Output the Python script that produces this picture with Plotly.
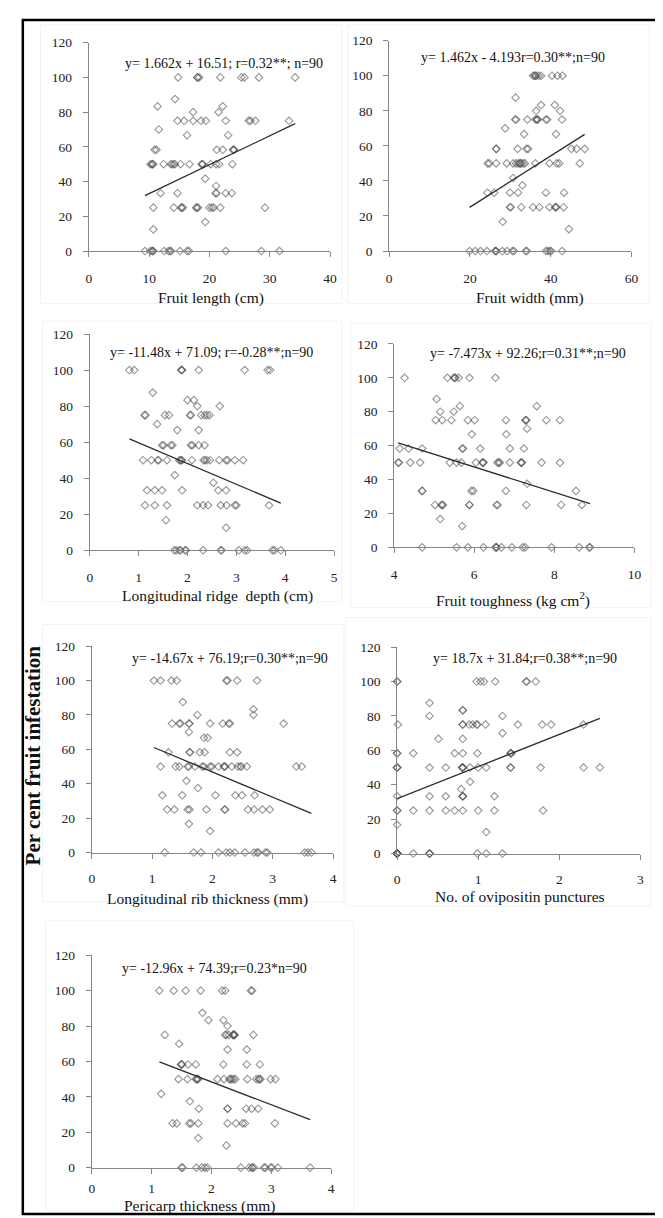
import plotly.graph_objects as go

W, H = 663, 1218

# ---------------- data ----------------
# Panel 1: Fruit length (cm)
len_x = [14.8, 18.0, 18.3, 21.8, 25.3, 25.8, 28.2, 34.2, 18.0,
         14.3,
         11.4, 22.2,
         17.3, 21.5,
         14.7, 15.8, 17.3, 18.6, 19.4, 22.7, 26.5, 26.8, 27.6, 33.2,
         11.6,
         16.3, 23.1,
         10.9, 11.2, 21.2, 22.2, 23.9, 24.1, 24.0,
         10.2, 10.5, 10.7, 12.4, 13.6, 14.1, 14.3, 15.2, 16.7, 18.7, 18.9, 20.2, 21.1, 21.6, 23.8, 10.5, 13.8, 18.8,
         19.3,
         21.1,
         11.9, 14.7, 21.0, 21.2, 22.7, 23.7,
         10.7, 14.1, 15.3, 15.6, 17.8, 18.1, 20.0, 20.4, 20.7, 21.8, 29.2, 15.4, 17.9,
         19.3,
         10.7,
         9.3, 10.2, 10.5, 10.7, 12.5, 13.2, 13.5, 13.6, 15.1, 16.3, 16.6, 22.7, 28.6, 31.6, 10.6]
len_y = [100] * 9 + [87.5] + [83.3] * 2 + [80] * 2 + [75] * 10 + [70] + [66.7] * 2 + [58.3] * 7 + \
        [50] * 18 + [41.7] + [37.5] + [33.3] * 6 + [25] * 13 + [16.7] + [12.5] + [0] * 15

# Panel 2: Fruit width (mm)
wid_x = [35.6, 36.0, 36.4, 37.0, 37.6, 40.3, 41.7, 42.9, 36.2,
         31.3,
         37.6, 41.0,
         36.4, 42.3,
         31.2, 31.4, 34.2, 36.2, 36.6, 36.8, 38.8, 39.1, 42.8, 36.6,
         28.7,
         33.4, 41.3,
         26.5, 31.8, 34.0, 34.4, 45.1, 46.4, 48.4, 26.5,
         24.4, 24.8, 26.5, 29.1, 30.7, 31.4, 31.9, 32.3, 32.7, 33.2, 33.6, 36.2, 39.7, 41.5, 42.1, 47.2, 32.5,
         30.7,
         33.0,
         24.3, 26.0, 29.9, 31.9, 38.8, 43.3,
         29.9, 30.1, 32.7, 35.6, 37.2, 39.7, 41.1, 41.4, 43.2, 41.2,
         28.1,
         44.5,
         19.9, 21.3, 22.6, 24.2, 26.2, 26.5, 28.0, 29.2, 30.5, 30.9, 33.8, 34.1, 38.8, 39.3, 39.8, 40.1, 42.8, 26.4]
wid_y = [100] * 9 + [87.5] + [83.3] * 2 + [80] * 2 + [75] * 10 + [70] + [66.7] * 2 + [58.3] * 8 + \
        [50] * 17 + [41.7] + [37.5] + [33.3] * 6 + [25] * 10 + [16.7] + [12.5] + [0] * 18

# Panel 3: Longitudinal ridge depth (cm)
rid_x = [0.81, 0.91, 1.87, 1.89, 2.23, 3.17, 3.64, 3.69, 1.88,
         1.29,
         2.00, 2.13,
         2.20, 2.66,
         1.12, 1.14, 1.54, 1.62, 2.05, 2.07, 2.28, 2.35, 2.40, 2.45,
         1.38,
         1.79, 2.23,
         1.48, 1.51, 1.66, 1.69, 2.07, 2.10, 2.23, 2.35,
         1.09, 1.26, 1.39, 1.41, 1.58, 1.83, 1.86, 1.89, 2.09, 2.33, 2.36, 2.40, 2.46, 2.65, 2.79, 2.82, 2.97, 3.14, 1.87,
         1.74,
         2.53,
         1.17, 1.33, 1.48, 1.89, 2.63, 2.79,
         1.13, 1.33, 1.58, 2.20, 2.32, 2.42, 2.68, 2.80, 2.97, 3.00, 3.67,
         1.56,
         2.79,
         1.73, 1.77, 1.83, 1.86, 1.95, 1.97, 2.32, 2.68, 2.70, 3.05, 3.17, 3.22, 3.74, 3.78, 3.91]
rid_y = [100] * 9 + [87.5] + [83.3] * 2 + [80] * 2 + [75] * 10 + [70] + [66.7] * 2 + [58.3] * 8 + \
        [50] * 19 + [41.7] + [37.5] + [33.3] * 6 + [25] * 11 + [16.7] + [12.5] + [0] * 15

# Panel 4: Fruit toughness (kg cm2)
tou_x = [4.26, 5.33, 5.49, 5.53, 5.61, 5.88, 6.53, 5.51,
         5.06,
         5.64, 7.56,
         5.15, 5.49,
         5.04, 5.20, 5.43, 5.84, 6.01, 6.79, 7.28, 7.30, 7.80, 8.14, 7.29,
         7.32,
         5.94, 6.80,
         4.14, 4.36, 4.70, 5.70, 5.72, 6.15, 6.89, 7.24,
         4.10, 4.12, 4.40, 4.65, 5.39, 5.56, 5.68, 6.04, 6.20, 6.23, 6.58, 6.61, 6.64, 6.89, 7.16, 7.19, 7.68, 8.14, 6.22, 7.18,
         7.32,
         4.70, 5.93, 5.98, 6.79, 8.54, 4.70,
         5.02, 5.18, 5.22, 5.88, 6.56, 6.58, 7.30, 8.17, 8.69, 5.20, 5.88,
         5.15,
         5.70,
         4.70, 5.56, 5.84, 6.23, 6.53, 6.56, 6.68, 6.94, 7.21, 7.27, 7.93, 8.62, 8.87, 8.89, 6.55]
tou_y = [100] * 8 + [87.5] + [83.3] * 2 + [80] * 2 + [75] * 11 + [70] + [66.7] * 2 + [58.3] * 8 + \
        [50] * 20 + [37.5] + [33.3] * 6 + [25] * 11 + [16.7] + [12.5] + [0] * 15

# Panel 5: Longitudinal rib thickness (mm)
rib_x = [1.03, 1.14, 1.32, 1.41, 2.23, 2.25, 2.41, 2.74,
         1.51,
         2.68,
         1.75, 2.68,
         1.33, 1.45, 1.47, 1.61, 1.62, 1.96, 2.17, 2.27, 2.29, 3.18,
         1.61,
         1.86, 1.92,
         1.27, 1.62, 1.63, 1.79, 1.87, 2.29, 2.41,
         1.14, 1.39, 1.45, 1.59, 1.61, 1.71, 1.83, 1.86, 1.96, 1.99, 2.10, 2.19, 2.20, 2.21, 2.32, 2.42, 2.46, 2.48, 2.57, 3.39, 3.48,
         1.57,
         1.76,
         1.17, 1.50, 2.05, 2.38, 2.49, 2.70,
         1.25, 1.37, 1.59, 1.62, 1.90, 2.20, 2.21, 2.59, 2.69, 2.83, 2.95,
         1.61,
         1.96,
         1.21, 1.69, 1.81, 2.10, 2.23, 2.29, 2.37, 2.54, 2.69, 2.74, 2.76, 2.88, 2.91, 3.53, 3.58, 3.64]
rib_y = [100] * 8 + [87.5] + [83.3] + [80] * 2 + [75] * 10 + [70] + [66.7] * 2 + [58.3] * 7 + \
        [50] * 21 + [41.7] + [37.5] + [33.3] * 6 + [25] * 11 + [16.7] + [12.5] + [0] * 16

# Panel 6: No. of oviposition punctures
ovi_x = [0.00, 0.98, 1.03, 1.07, 1.21, 1.59, 1.60, 1.71, 0.00,
         0.40,
         0.81, 0.81,
         0.40, 1.30,
         0.01, 0.81, 0.89, 0.93, 0.98, 0.99, 1.09, 1.49, 1.79, 1.90, 2.30, 0.81,
         1.30,
         0.51, 0.81,
         0.00, 0.00, 0.20, 0.71, 0.81, 0.99, 1.40, 1.41, 1.40,
         0.00, 0.00, 0.00, 0.40, 0.60, 0.80, 0.81, 0.81, 0.90, 1.00, 1.10, 1.40, 1.40, 1.77, 2.30, 2.50, 0.81,
         0.90,
         0.79,
         0.00, 0.40, 0.60, 0.81, 0.81, 1.20, 0.81,
         0.00, 0.00, 0.20, 0.40, 0.60, 0.71, 0.81, 1.00, 1.20, 1.80,
         0.00,
         1.10,
         0.00, 0.00, 0.00, 0.00, 0.00, 0.20, 0.40, 0.40, 0.40, 0.99, 1.10, 1.30, 0.00, 0.00]
ovi_y = [100] * 9 + [87.5] + [83.3] * 2 + [80] * 2 + [75] * 12 + [70] + [66.7] * 2 + [58.3] * 9 + \
        [50] * 17 + [41.7] + [37.5] + [33.3] * 7 + [25] * 10 + [16.7] + [12.5] + [0] * 14

# Panel 7: Pericarp thickness (mm)
per_x = [1.13, 1.37, 1.57, 1.82, 2.18, 2.23, 2.66, 2.68,
         1.85,
         1.95, 2.20,
         2.27,
         1.22, 2.23, 2.25, 2.29, 2.36, 2.37, 2.39, 2.70, 2.37, 2.38,
         1.46,
         2.27, 2.59,
         1.49, 1.51, 1.61, 1.74, 2.20, 2.59, 2.81, 1.50,
         1.45, 1.60, 1.74, 1.76, 1.78, 2.10, 2.21, 2.30, 2.32, 2.34, 2.37, 2.40, 2.60, 2.75, 2.79, 2.82, 2.99, 3.07, 1.76, 2.80,
         1.16,
         1.64,
         1.79, 2.27, 2.58, 2.67, 2.78, 2.27,
         1.35, 1.42, 1.63, 1.66, 1.78, 2.27, 2.41, 2.52, 2.56, 3.06,
         1.78,
         2.25,
         1.50, 1.52, 1.75, 1.84, 1.89, 1.93, 2.49, 2.63, 2.68, 2.71, 2.88, 2.90, 2.99, 3.01, 3.11, 3.65, 2.68]
per_y = [100] * 8 + [87.5] + [83.3] * 2 + [80] + [75] * 10 + [70] + [66.7] * 2 + [58.3] * 8 + \
        [50] * 20 + [41.7] + [37.5] + [33.3] * 6 + [25] * 10 + [16.7] + [12.5] + [0] * 17

# regression coefficients (slope, intercept) as printed on each panel
slopes = [1.662, 1.462, -11.48, -7.473, -14.67, 18.7, -12.96]
intercepts = [16.51, -4.193, 71.09, 92.26, 76.19, 31.84, 74.39]

eq_labels = [
    "y= 1.662x + 16.51; r=0.32**; n=90",
    "y= 1.462x - 4.193r=0.30**;n=90",
    "y= -11.48x + 71.09; r=-0.28**;n=90",
    "y= -7.473x + 92.26;r=0.31**;n=90",
    "y= -14.67x + 76.19;r=0.30**;n=90",
    "y= 18.7x + 31.84;r=0.38**;n=90",
    "y= -12.96x + 74.39;r=0.23*n=90",
]
x_titles = [
    "Fruit length (cm)",
    "Fruit width (mm)",
    "Longitudinal ridge  depth (cm)",
    "Fruit toughness (kg cm<sup>2</sup>)",
    "Longitudinal rib thickness (mm)",
    "No. of ovipositin punctures",
    "Pericarp thickness (mm)",
]
x_ranges = [[0, 40], [0, 60], [0, 5], [4, 10], [0, 4], [0, 3], [0, 4]]
x_dticks = [10, 20, 1, 2, 1, 1, 1]
y_range = [0, 120]
y_dtick = 20
y_title = "Per cent fruit infestation"

xs = [len_x, wid_x, rid_x, tou_x, rib_x, ovi_x, per_x]
ys = [len_y, wid_y, rid_y, tou_y, rib_y, ovi_y, per_y]

# ---------------- layout geometry (pixels) ----------------
# plot areas: (left, right, top, bottom)
areas = [
    (79, 324, 28, 239),
    (384, 630, 26, 239),
    (80, 328, 323, 542),
    (389, 633, 333, 539),
    (82, 327, 639, 848),
    (392, 639, 640, 849),
    (82, 325, 952, 1167),
]
eq_pos = [(216, 49), (510, 43), (204, 342), (525, 343), (222, 652), (522, 652), (207, 965)]
title_pos = [(203, 287), (527, 287), (210, 588), (510, 592), (200, 895), (517, 892), (192, 1206)]
xlabel_standoff = [10, 10, 9, 9, 8, 8, 3]
boxes = [
    (30, 336, 10, 292), (342, 648, 10, 292),
    (32, 336, 310, 594), (345, 650, 312, 600),
    (32, 338, 617, 898), (340, 650, 610, 902),
    (35, 348, 917, 1211),
]


def px(p):
    return p / W


def py(p):
    return 1 - p / H


FONT = "Liberation Serif, Times New Roman, serif"
AXCOL = "#868686"
MARK = "rgba(80,80,80,0.6)"

fig = go.Figure()
layout = dict(
    width=W, height=H,
    margin=dict(l=0, r=0, t=0, b=0),
    paper_bgcolor="white", plot_bgcolor="rgba(0,0,0,0)",
    showlegend=False,
    font=dict(family=FONT, size=13.5, color="#222"),
)
annotations = []
shapes = []

for i in range(7):
    n = i + 1
    xa = "x" if n == 1 else f"x{n}"
    ya = "y" if n == 1 else f"y{n}"
    l, r, t, b = areas[i]
    fig.add_trace(go.Scatter(
        x=xs[i], y=ys[i], mode="markers", xaxis=xa, yaxis=ya,
        cliponaxis=False,
        marker=dict(symbol="diamond-open", size=5.8, color=MARK, line=dict(width=1.1, color=MARK)),
        hoverinfo="skip",
    ))
    x0, x1 = min(xs[i]), max(xs[i])
    fig.add_trace(go.Scatter(
        x=[x0, x1], y=[slopes[i] * x0 + intercepts[i], slopes[i] * x1 + intercepts[i]],
        mode="lines", xaxis=xa, yaxis=ya, cliponaxis=False,
        line=dict(color="#2b2b2b", width=1.3), hoverinfo="skip",
    ))
    xkey = "xaxis" if n == 1 else f"xaxis{n}"
    ykey = "yaxis" if n == 1 else f"yaxis{n}"
    layout[xkey] = dict(
        domain=[px(l), px(r)], anchor=ya, range=x_ranges[i], dtick=x_dticks[i],
        tick0=x_ranges[i][0],
        showgrid=False, zeroline=False, showline=True, linecolor=AXCOL, linewidth=1,
        ticks="outside", ticklen=5, tickcolor=AXCOL, tickwidth=1,
        ticklabelstandoff=xlabel_standoff[i],
        tickfont=dict(family=FONT, size=13.5, color="#222"), fixedrange=True,
    )
    layout[ykey] = dict(
        domain=[py(b), py(t)], anchor=xa, range=y_range, dtick=y_dtick,
        showgrid=False, zeroline=False, showline=True, linecolor=AXCOL, linewidth=1,
        ticks="outside", ticklen=5, tickcolor=AXCOL, tickwidth=1,
        ticklabelstandoff=8,
        tickfont=dict(family=FONT, size=13.5, color="#222"), fixedrange=True,
    )
    ex, ey = eq_pos[i]
    annotations.append(dict(
        x=px(ex), y=py(ey), xref="paper", yref="paper", text=eq_labels[i],
        showarrow=False, xanchor="center", yanchor="middle",
        font=dict(family=FONT, size=14, color="#111"),
    ))
    tx, ty = title_pos[i]
    annotations.append(dict(
        x=px(tx), y=py(ty), xref="paper", yref="paper", text=x_titles[i],
        showarrow=False, xanchor="center", yanchor="middle",
        font=dict(family=FONT, size=15.5, color="#111"),
    ))
    bl, br, bt, bb = boxes[i]
    shapes.append(dict(type="rect", xref="paper", yref="paper",
                       x0=px(bl), x1=px(br), y0=py(bb), y1=py(bt),
                       line=dict(color="#f2f2f2", width=1), layer="below"))

annotations.append(dict(
    x=px(22), y=py(750), xref="paper", yref="paper", text="<b>" + y_title + "</b>",
    showarrow=False, textangle=-90, xanchor="center", yanchor="middle",
    font=dict(family=FONT, size=21, color="#111"),
))
shapes.append(dict(type="rect", xref="paper", yref="paper",
                   x0=px(12), x1=px(657), y0=py(1214), y1=py(5),
                   line=dict(color="black", width=2.5)))

layout["annotations"] = annotations
layout["shapes"] = shapes
fig.update_layout(**layout)
fig.write_html("out.html")
